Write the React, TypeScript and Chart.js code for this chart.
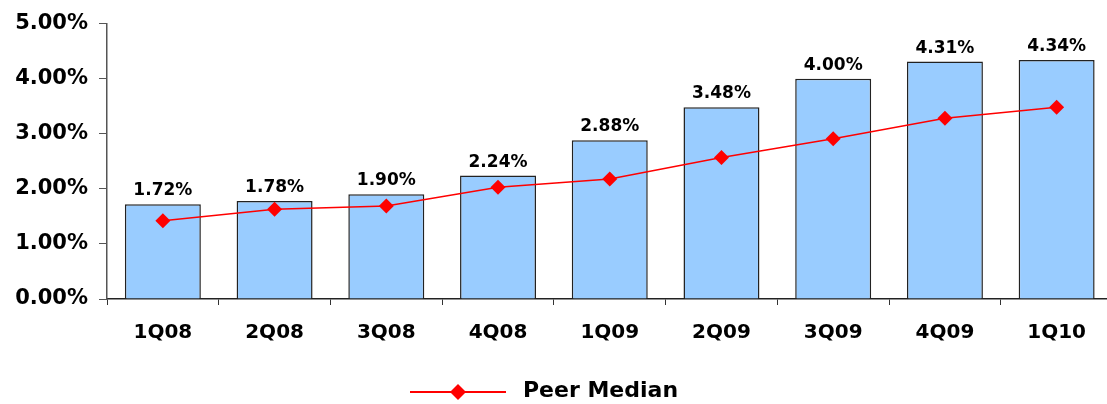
import React, { useEffect, useRef } from "react";
import { Chart, registerables } from "chart.js";

Chart.register(...registerables);

const categories = ["1Q08", "2Q08", "3Q08", "4Q08", "1Q09", "2Q09", "3Q09", "4Q09", "1Q10"];
const ratioValues = [1.72, 1.78, 1.9, 2.24, 2.88, 3.48, 4.0, 4.31, 4.34];
const peerMedian = [1.42, 1.63, 1.69, 2.03, 2.18, 2.57, 2.91, 3.28, 3.48];
const legendLabel = "Peer Median";

const FONT = "'DejaVu Sans', Verdana, sans-serif";

const barLabelPlugin = {
  id: "barLabels",
  afterDatasetsDraw(chart: any) {
    const ctx = chart.ctx;
    const meta = chart.getDatasetMeta(0);
    ctx.save();
    ctx.font = `bold 17px ${FONT}`;
    ctx.fillStyle = "#000";
    ctx.textAlign = "center";
    ctx.textBaseline = "alphabetic";
    meta.data.forEach((el: any, i: number) => {
      ctx.fillText(ratioValues[i].toFixed(2) + "%", el.x, el.y - 9);
    });
    ctx.restore();
  },
};

const legendPlugin = {
  id: "customLegend",
  afterDraw(chart: any) {
    const ctx = chart.ctx;
    const y = 392;
    ctx.save();
    ctx.strokeStyle = "#FF0000";
    ctx.lineWidth = 2;
    ctx.beginPath();
    ctx.moveTo(410, y);
    ctx.lineTo(506, y);
    ctx.stroke();
    ctx.fillStyle = "#FF0000";
    ctx.beginPath();
    const cx = 458;
    const r = 8;
    ctx.moveTo(cx, y - r);
    ctx.lineTo(cx + r, y);
    ctx.lineTo(cx, y + r);
    ctx.lineTo(cx - r, y);
    ctx.closePath();
    ctx.fill();
    ctx.fillStyle = "#000";
    ctx.font = `bold 22px ${FONT}`;
    ctx.textAlign = "left";
    ctx.textBaseline = "middle";
    ctx.fillText(legendLabel, 523, y - 1);
    ctx.restore();
  },
};

export default function App() {
  const ref = useRef<HTMLCanvasElement | null>(null);

  useEffect(() => {
    if (!ref.current) return;
    const chart = new Chart(ref.current, {
      type: "bar",
      data: {
        labels: categories,
        datasets: [
          {
            type: "bar",
            label: "Ratio",
            data: ratioValues,
            backgroundColor: "#99CCFF",
            borderColor: "#222222",
            borderWidth: 1.5,
            categoryPercentage: 1,
            barPercentage: 0.68,
            order: 1,
          },
          {
            type: "line",
            label: legendLabel,
            data: peerMedian,
            borderColor: "#FF0000",
            backgroundColor: "#FF0000",
            borderWidth: 1.5,
            pointStyle: "rectRot",
            pointRadius: 7.5,
            pointBorderWidth: 0,
            pointBackgroundColor: "#FF0000",
            tension: 0,
            order: 0,
          } as any,
        ],
      },
      options: {
        responsive: false,
        animation: false,
        devicePixelRatio: 1,
        layout: { padding: { top: 19, right: 3, bottom: 55, left: 0 } },
        plugins: {
          legend: { display: false },
          tooltip: { enabled: false },
        },
        scales: {
          x: {
            offset: true,
            grid: {
              offset: true,
              drawOnChartArea: false,
              drawTicks: true,
              tickLength: 6,
              color: "#333",
            },
            border: { color: "#222", width: 1.5 },
            ticks: {
              font: { family: FONT, size: 20, weight: "bold" },
              color: "#000",
              padding: 16,
            },
            afterFit: (scale: any) => {
              scale.height = 50;
            },
          },
          y: {
            min: 0,
            max: 5,
            grid: {
              drawOnChartArea: false,
              drawTicks: true,
              tickLength: 8,
              color: "#555",
            },
            border: { color: "#555", width: 1.5 },
            ticks: {
              stepSize: 1,
              font: { family: FONT, size: 21, weight: "bold" },
              color: "#000",
              padding: 11,
              callback: (v: any) => Number(v).toFixed(2) + "%",
            },
            afterFit: (scale: any) => {
              scale.width = 107;
            },
          },
        },
      },
      plugins: [barLabelPlugin, legendPlugin],
    });
    return () => chart.destroy();
  }, []);

  return (
    <div style={{ position: "fixed", left: 0, top: 0, width: 1107, height: 404, overflow: "hidden", background: "#fff" }}>
      <canvas ref={ref} width={1120} height={404} style={{ display: "block" }} />
    </div>
  );
}
